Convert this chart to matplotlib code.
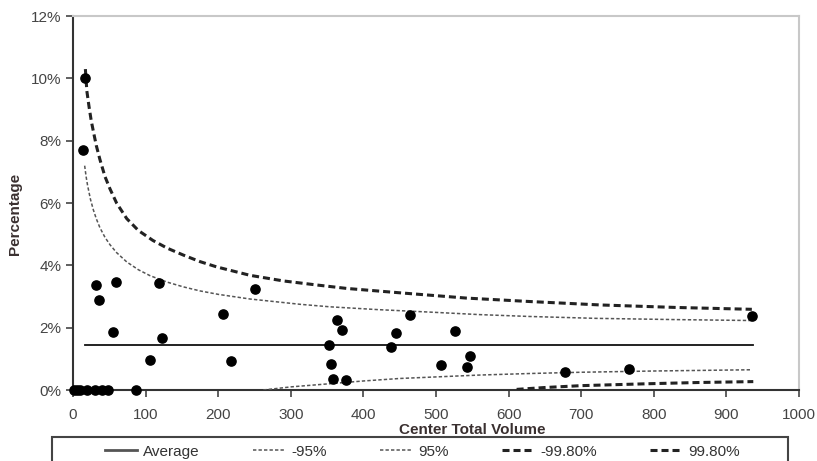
import matplotlib.pyplot as plt
from matplotlib.patches import Rectangle
from matplotlib.lines import Line2D
from matplotlib.ticker import PercentFormatter

plt.rcParams['font.family'] = ['Liberation Sans', 'DejaVu Sans']

# centers: total volume vs percentage
vol = [1, 5, 10, 19, 30, 40, 48, 87,
       17, 14, 31, 36, 59, 55, 106, 119, 123, 207, 218, 251,
       363, 371, 353, 356, 358, 376, 438, 445, 464, 526, 507, 543, 547,
       677, 766, 935]
pct = [0, 0, 0, 0, 0, 0, 0, 0,
       10.0, 7.7, 3.37, 2.89, 3.47, 1.87, 0.97, 3.42, 1.66, 2.45, 0.93, 3.24,
       2.25, 1.91, 1.43, 0.85, 0.34, 0.32, 1.39, 1.84, 2.40, 1.90, 0.79, 0.74, 1.10,
       0.58, 0.66, 2.38]

avg_x = [17, 936]
avg_y = [1.44, 1.44]

up95_x = [16, 18, 20, 24, 28, 32, 37, 44, 51, 60, 74, 90, 106, 130, 152, 175, 200,
          244, 313, 354, 420, 492, 560, 629, 720, 830, 935]
up95_y = [7.2, 6.85, 6.57, 6.12, 5.78, 5.5, 5.21, 4.9, 4.66, 4.41, 4.11, 3.86, 3.67, 3.46,
          3.31, 3.18, 3.07, 2.92, 2.75, 2.67, 2.58, 2.5, 2.42, 2.36, 2.3, 2.26, 2.23]

lo95_x = [262, 300, 358, 400, 450, 500, 560, 630, 700, 800, 935]
lo95_y = [0.0, 0.1, 0.21, 0.29, 0.37, 0.42, 0.48, 0.53, 0.57, 0.61, 0.65]

up998_x = [17, 19, 22, 25, 28, 32, 37, 44, 51, 60, 74, 90, 110, 130, 152, 175, 198,
           244, 290, 336, 377, 450, 542, 629, 726, 830, 935]
up998_y = [10.3, 9.6, 9.1, 8.65, 8.3, 7.85, 7.4, 6.85, 6.45, 6.0, 5.5, 5.12, 4.8, 4.55,
           4.33, 4.12, 3.95, 3.68, 3.5, 3.37, 3.26, 3.12, 2.95, 2.84, 2.73, 2.65, 2.59]

lo998_x = [611, 650, 700, 790, 860, 937]
lo998_y = [0.02, 0.08, 0.14, 0.2, 0.24, 0.27]

legend_labels = ['Average', '-95%', '95%', '-99.80%', '99.80%']

fig = plt.figure(figsize=(8.17, 4.61), dpi=100)
ax = fig.add_axes([0.0894, 0.154, 0.8886, 0.811])

dot_style = dict(color='#555555', lw=1.1, dashes=(2.2, 1.4))
dash_style = dict(color='#222222', lw=2.2, dashes=(2.3, 1.3))

ax.plot(avg_x, avg_y, color='#111111', lw=1.3, zorder=3)
ax.plot(lo95_x, lo95_y, **dot_style, zorder=3)
ax.plot(up95_x, up95_y, **dot_style, zorder=3)
ax.plot(lo998_x, lo998_y, **dash_style, zorder=3)
ax.plot(up998_x, up998_y, **dash_style, zorder=3)
ax.scatter(vol, pct, s=44, color='black', zorder=5, clip_on=False)

ax.set_xlim(0, 1000)
ax.set_ylim(0, 12)
ax.set_xticks(range(0, 1001, 100))
ax.set_yticks(range(0, 13, 2))
ax.yaxis.set_major_formatter(PercentFormatter(decimals=0))
ax.tick_params(labelsize=11, colors='#444444', length=5, width=1.2, direction='out')
ax.tick_params(axis='x', pad=8)

for s in ['left', 'bottom']:
    ax.spines[s].set_color('#333333')
    ax.spines[s].set_linewidth(1.5)
for s in ['top', 'right']:
    ax.spines[s].set_color('#c8c8c8')
    ax.spines[s].set_linewidth(1.5)

ax.set_xlabel('Center Total Volume', fontsize=11, fontweight='bold', color='#3a3030')
ax.xaxis.set_label_coords(0.55, -0.088)
ax.set_ylabel('Percentage', fontsize=11, fontweight='bold', color='#3a3030')
ax.yaxis.set_label_coords(-0.07, 0.47)

# legend box (runs past the bottom edge as in the source image)
fig.patches.append(Rectangle((0.0636, -0.05), 0.901, 0.102, transform=fig.transFigure,
                             fill=False, edgecolor='#444444', lw=1.5))
handles = [Line2D([], [], color='#555555', lw=2),
           Line2D([], [], **dot_style), Line2D([], [], **dot_style),
           Line2D([], [], **dash_style), Line2D([], [], **dash_style)]
fig.legend(handles, legend_labels, loc='center', bbox_to_anchor=(0.517, 0.02), ncol=5,
           frameon=False, fontsize=11, handlelength=2.1, handletextpad=0.4,
           columnspacing=3.5, labelcolor='#333333')

fig.savefig('out.png', dpi=100)
